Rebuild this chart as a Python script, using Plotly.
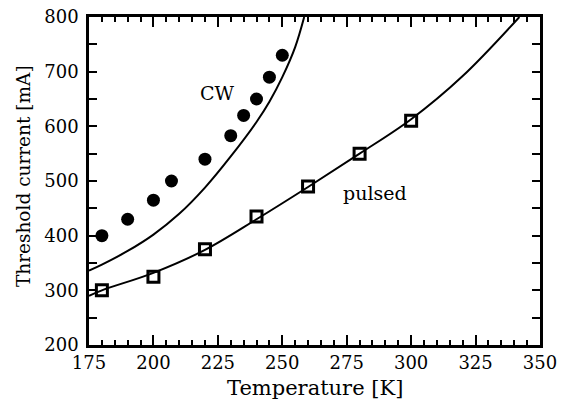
import plotly.graph_objects as go

# Measured data
cw_T = [180, 190, 200, 207, 220, 230, 235, 240, 245, 250]
cw_I = [400, 430, 465, 500, 540, 583, 620, 650, 690, 730]

pulsed_T = [180, 200, 220, 240, 260, 280, 300]
pulsed_I = [300, 325, 375, 435, 490, 550, 610]

# Fit curves
cw_fit_T = [175, 180, 190, 200, 210, 220, 230, 240, 245, 250, 255, 258.5]
cw_fit_I = [336, 347, 372, 402, 440, 488, 545, 608, 645, 690, 745, 800]

pulsed_fit_T = [175, 180, 200, 220, 240, 260, 280, 300, 320, 342]
pulsed_fit_I = [290, 300, 332, 374, 430, 489, 550, 613, 692, 800]

x_ticks = [175, 200, 225, 250, 275, 300, 325, 350]
y_ticks = [200, 300, 400, 500, 600, 700, 800]

FONT = "DejaVu Serif"

fig = go.Figure()
fig.add_trace(go.Scatter(x=cw_fit_T, y=cw_fit_I, mode="lines",
                         line=dict(color="black", width=2, shape="spline"),
                         showlegend=False, hoverinfo="skip"))
fig.add_trace(go.Scatter(x=pulsed_fit_T, y=pulsed_fit_I, mode="lines",
                         line=dict(color="black", width=2, shape="spline"),
                         showlegend=False, hoverinfo="skip"))
fig.add_trace(go.Scatter(x=cw_T, y=cw_I, mode="markers",
                         marker=dict(symbol="circle", size=13, color="black"),
                         showlegend=False))
fig.add_trace(go.Scatter(x=pulsed_T, y=pulsed_I, mode="markers",
                         marker=dict(symbol="square-open", size=11, color="black",
                                     line=dict(width=3, color="black")),
                         showlegend=False))

fig.add_annotation(x=225, y=661, text="CW", showarrow=False,
                   font=dict(family=FONT, size=19, color="black"))
fig.add_annotation(x=285.8, y=478, text="pulsed", showarrow=False,
                   font=dict(family=FONT, size=19, color="black"))

# Axis titles
fig.add_annotation(xref="paper", yref="paper", x=0.5, y=0, yanchor="middle", yshift=-42.6,
                   text="Temperature [K]", showarrow=False,
                   font=dict(family=FONT, size=21, color="black"))
fig.add_annotation(xref="paper", yref="paper", x=-0.1463, y=0.515, xanchor="center",
                   yanchor="middle", textangle=-90,
                   text="Threshold current [mA]", showarrow=False,
                   font=dict(family=FONT, size=18.5, color="black"))

fig.update_xaxes(range=[175, 350], tickvals=x_ticks, ticktext=[str(v) for v in x_ticks],
                 ticks="inside", ticklen=10, tickwidth=2, tickcolor="black",
                 minor=dict(dtick=5, ticks="inside", ticklen=5, tickwidth=2, tickcolor="black"),
                 showline=True, linewidth=2.5, linecolor="black", mirror="ticks",
                 showgrid=False, zeroline=False, automargin=False, ticklabeloverflow="allow",
                 tickfont=dict(family=FONT, size=18, color="black"))
fig.update_yaxes(range=[200, 800], tickvals=y_ticks, ticktext=[str(v) for v in y_ticks],
                 ticks="inside", ticklen=8, tickwidth=2, tickcolor="black",
                 minor=dict(dtick=50, ticks="inside", ticklen=8, tickwidth=2, tickcolor="black"),
                 showline=True, linewidth=2.5, linecolor="black", mirror="ticks",
                 showgrid=False, zeroline=False, automargin=False, ticklabelstandoff=4,
                 ticklabeloverflow="allow",
                 tickfont=dict(family=FONT, size=18, color="black"))

fig.update_layout(width=564, height=402, margin=dict(l=89, r=24, t=17, b=57),
                  plot_bgcolor="white", paper_bgcolor="white")

fig.write_html("out.html", config={"displayModeBar": False},
               post_script="document.body.style.margin='0px';")
